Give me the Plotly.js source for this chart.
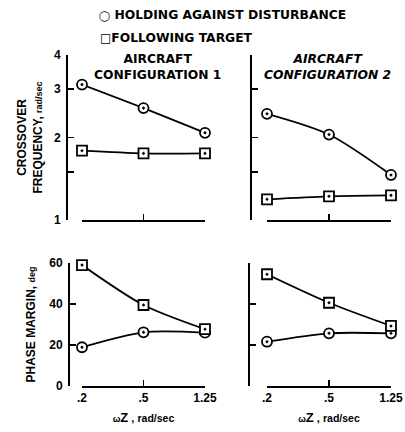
<!DOCTYPE html>
<html><head><meta charset="utf-8">
<script src="https://cdn.plot.ly/plotly-3.0.1.min.js"></script>
<style>html,body{margin:0;padding:0;background:#fff}#chart{width:405px;height:432px}</style>
</head><body><div id="chart"></div>
<script>
// ---- data ----
const omegaZ = [0.2, 0.5, 1.25];
const xTickText = ['.2', '.5', '1.25'];
const series = ['HOLDING AGAINST DISTURBANCE', 'FOLLOWING TARGET'];
// crossover frequency, rad/sec
const cross1Holding = [3.12, 2.56, 2.08];
const cross1Following = [1.79, 1.75, 1.75];
const cross2Holding = [2.44, 2.05, 1.46];
const cross2Following = [1.19, 1.22, 1.23];
// phase margin, deg
const phase1Holding = [18.9, 26.2, 26.0];
const phase1Following = [59.0, 39.5, 27.7];
const phase2Holding = [21.6, 25.7, 25.7];
const phase2Following = [54.5, 40.6, 29.3];
const crossTicks = [1, 2, 3, 4];
const crossMinorTicks = [1.5];
const phaseTicks = [0, 20, 40, 60];

// ---- layout helpers (pixel -> paper) ----
const W = 405, H = 432;
const px = v => v / W;
const py = v => 1 - v / H;
const FONT = 'Liberation Sans, Arial, sans-serif';
const WIDE = 'DejaVu Sans, Verdana, sans-serif';

function trace(x, y, sym, xa, ya) {
  return {
    x: x, y: y, xaxis: xa, yaxis: ya, type: 'scatter', mode: 'lines+markers',
    line: {color: '#000', width: 1.8, shape: 'spline', smoothing: 0.8},
    marker: {symbol: sym, size: 10, color: '#fff', line: {color: '#000', width: 1.8}},
    cliponaxis: false, showlegend: false, hoverinfo: 'x+y'
  };
}
const data = [
  trace(omegaZ, cross1Holding, 'circle-dot', 'x', 'y'),
  trace(omegaZ, cross1Following, 'square-dot', 'x', 'y'),
  trace(omegaZ, cross2Holding, 'circle-dot', 'x2', 'y2'),
  trace(omegaZ, cross2Following, 'square-dot', 'x2', 'y2'),
  trace(omegaZ, phase1Holding, 'circle-dot', 'x3', 'y3'),
  trace(omegaZ, phase1Following, 'square-dot', 'x3', 'y3'),
  trace(omegaZ, phase2Holding, 'circle-dot', 'x4', 'y4'),
  trace(omegaZ, phase2Following, 'square-dot', 'x4', 'y4')
];

const tickFont = {family: FONT, size: 12, color: '#000', weight: 'bold'};
function xax(d0, d1, anchor, labels, title) {
  const a = {
    type: 'log', domain: [px(d0), px(d1)], anchor: anchor,
    range: [Math.log10(omegaZ[0]), Math.log10(omegaZ[omegaZ.length - 1])],
    tickmode: 'array', tickvals: omegaZ, ticktext: xTickText, showticklabels: labels,
    ticks: 'inside', ticklen: 6, tickwidth: 1.6, tickcolor: '#000',
    showline: true, linewidth: 1.6, linecolor: '#000', showgrid: false, zeroline: false,
    tickfont: tickFont, fixedrange: true
  };
  if (title) a.title = {text: title, font: {family: FONT, size: 11, color: '#000', weight: 'bold'}, standoff: 10};
  return a;
}
function yax(pos, t0, t1, log, labels, title, standoff) {
  const a = {
    domain: [py(t1), py(t0)], anchor: 'free', position: px(pos),
    tickmode: 'array', showticklabels: labels, ticklabelstandoff: 3,
    ticks: 'inside', ticklen: 6, tickwidth: 1.6, tickcolor: '#000',
    showline: true, linewidth: 1.6, linecolor: '#000', showgrid: false, zeroline: false,
    tickfont: tickFont, fixedrange: true
  };
  if (log) {
    a.type = 'log'; a.range = [0, Math.log10(4)]; a.tickvals = crossTicks;
    a.minor = {tickmode: 'array', tickvals: crossMinorTicks, ticks: 'inside', ticklen: 6, tickwidth: 1.6, tickcolor: '#000', showgrid: false};
  } else { a.range = [0, 60]; a.tickvals = phaseTicks; }
  if (title) a.title = {text: title, font: {family: FONT, size: 12, color: '#000', weight: 'bold'}, standoff: standoff};
  return a;
}

const xTitle = '<span style="font-size:9px">ω</span><span style="font-size:13px">Z</span> , <span style="font-size:10.5px">rad/sec</span>';
const legFont = {family: WIDE, size: 12.3, weight: 'bold', color: '#000'};
const cfgFont = {family: WIDE, size: 12.3, weight: 'bold', color: '#000'};
const layout = {
  width: W, height: H, margin: {l: 0, r: 0, t: 0, b: 0},
  paper_bgcolor: '#fff', plot_bgcolor: '#fff', showlegend: false,
  font: {family: FONT, color: '#000'},
  xaxis: xax(82, 205, 'y', false),
  yaxis: yax(66, 55, 220, true, true, 'CROSSOVER<br>FREQUENCY, <span style="font-size:9px">rad/sec</span>', 7),
  xaxis2: xax(267, 391, 'y2', false),
  yaxis2: yax(250, 55, 220, true, false),
  xaxis3: xax(82, 205, 'y3', true, xTitle),
  yaxis3: yax(68, 263, 386, false, true, 'PHASE MARGIN, <span style="font-size:9px">deg</span>', 9),
  xaxis4: xax(267, 391, 'y4', true, xTitle),
  yaxis4: yax(248, 263, 386, false, false),
  annotations: [
    {text: '<span style="font-size:10px">◯</span> ' + series[0], x: px(97), y: py(15), xref: 'paper', yref: 'paper', xanchor: 'left', yanchor: 'middle', showarrow: false, font: legFont},
    {text: '<span style="font-size:12px">□</span>' + series[1], x: px(98), y: py(38), xref: 'paper', yref: 'paper', xanchor: 'left', yanchor: 'middle', showarrow: false, font: legFont},
    {text: 'AIRCRAFT<br>CONFIGURATION 1', x: px(157), y: py(67), xref: 'paper', yref: 'paper', xanchor: 'center', yanchor: 'middle', showarrow: false, font: cfgFont},
    {text: 'AIRCRAFT<br>CONFIGURATION 2', x: px(327), y: py(67), xref: 'paper', yref: 'paper', xanchor: 'center', yanchor: 'middle', showarrow: false, font: Object.assign({}, cfgFont, {style: 'italic'})}
  ]
};
Plotly.newPlot('chart', data, layout, {displayModeBar: false, staticPlot: true});
</script></body></html>
